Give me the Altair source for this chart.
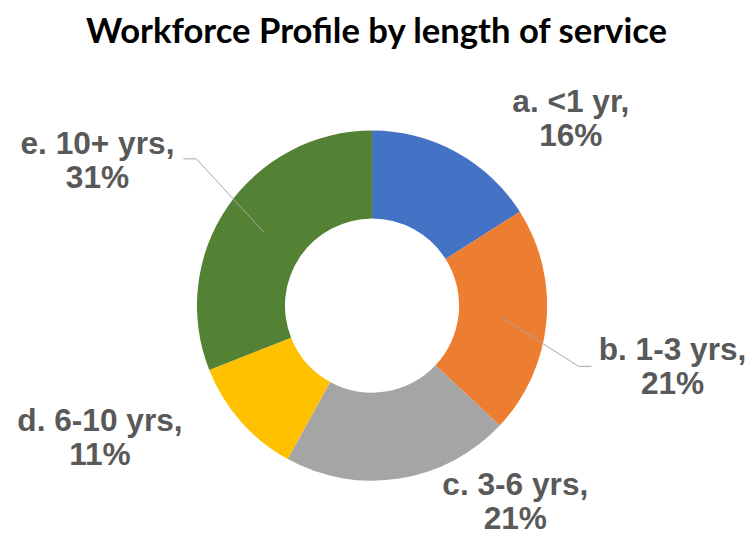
import math
import altair as alt
import pandas as pd

# ---- data ----
categories = ["a. <1 yr", "b. 1-3 yrs", "c. 3-6 yrs", "d. 6-10 yrs", "e. 10+ yrs"]
shares = [16, 21, 21, 11, 31]
colors = ["#4472C4", "#ED7D31", "#A5A5A5", "#FFC000", "#548235"]
title_text = "Workforce Profile by length of service"

# ---- layout (pixels) ----
INNER, OUTER = 88, 177
LABEL_R = 280
LIFT = 16
label_nudge = {  # dx, dy (y up) added to the label anchor
    "a. <1 yr": (66, -59 + LIFT + 3),
    "b. 1-3 yrs": (25, -34 + LIFT - 1),
    "c. 3-6 yrs": (101, 80 + LIFT - 1),
    "d. 6-10 yrs": (-65, 52 + LIFT),
    "e. 10+ yrs": (-46, -10 + LIFT),
}
leader = {  # bend and end points relative to label anchor
    "b. 1-3 yrs": [(-95, -LIFT), (-82, -LIFT)],
    "e. 10+ yrs": [(100, 1 - LIFT), (87, 1 - LIFT)],
}
W, H = 745, 450
X_DOM = [-368, 377]
Y_DOM = [-230, 220]

total = sum(shares)
rows, lab_rows, lead_rows = [], [], []
cum = 0
for i, (c, s) in enumerate(zip(categories, shares)):
    mid = (cum + s / 2) / total * 2 * math.pi
    cum += s
    rows.append({"cat": c, "value": s, "order": i})
    dx, dy = label_nudge[c]
    lx = LABEL_R * math.sin(mid) + dx
    ly = LABEL_R * math.cos(mid) + dy
    lab_rows.append({"cat": c, "label": f"{c},\n{s}%", "x": lx, "y": ly})
    if c in leader:
        rm = (INNER + OUTER) / 2
        pts = [(rm * math.sin(mid), rm * math.cos(mid))] + [(lx + a, ly + b) for a, b in leader[c]]
        for k, (px, py) in enumerate(pts):
            lead_rows.append({"cat": c, "x": px, "y": py, "k": k})

df = pd.DataFrame(rows)
df_lab = pd.DataFrame(lab_rows)
df_lead = pd.DataFrame(lead_rows)

xs = alt.Scale(domain=X_DOM, nice=False, zero=False)
ys = alt.Scale(domain=Y_DOM, nice=False, zero=False)

arcs = alt.Chart(df).mark_arc(innerRadius=INNER, outerRadius=OUTER).encode(
    x=alt.datum(0, scale=xs, axis=None),
    y=alt.datum(0, scale=ys, axis=None),
    theta=alt.Theta("value:Q", stack=True, scale=alt.Scale(domain=[0, total])),
    color=alt.Color("cat:N", scale=alt.Scale(domain=categories, range=colors), legend=None),
    order=alt.Order("order:Q"),
)

lines = alt.Chart(df_lead).mark_line(color="#A6A6A6", strokeWidth=1).encode(
    x=alt.X("x:Q", scale=xs, axis=None),
    y=alt.Y("y:Q", scale=ys, axis=None),
    detail="cat:N",
    order="k:Q",
)

labels = alt.Chart(df_lab).mark_text(
    font="Liberation Sans", fontWeight="bold", fontSize=32, color="#595959",
    lineBreak="\n", lineHeight=34, align="center", baseline="middle",
).encode(
    x=alt.X("x:Q", scale=xs, axis=None),
    y=alt.Y("y:Q", scale=ys, axis=None),
    text="label:N",
)

chart = alt.layer(arcs, lines, labels).properties(
    width=W, height=H,
    title=alt.TitleParams(title_text, font="Lato", fontSize=35, fontWeight="bold",
                          color="#000000", anchor="middle", offset=37),
    autosize=alt.AutoSizeParams(type="none"),
    padding={"top": 78, "left": 0, "right": 0, "bottom": 0},
).configure_view(stroke=None)

chart.save("out.html", embed_options={"renderer": "svg", "actions": False})
